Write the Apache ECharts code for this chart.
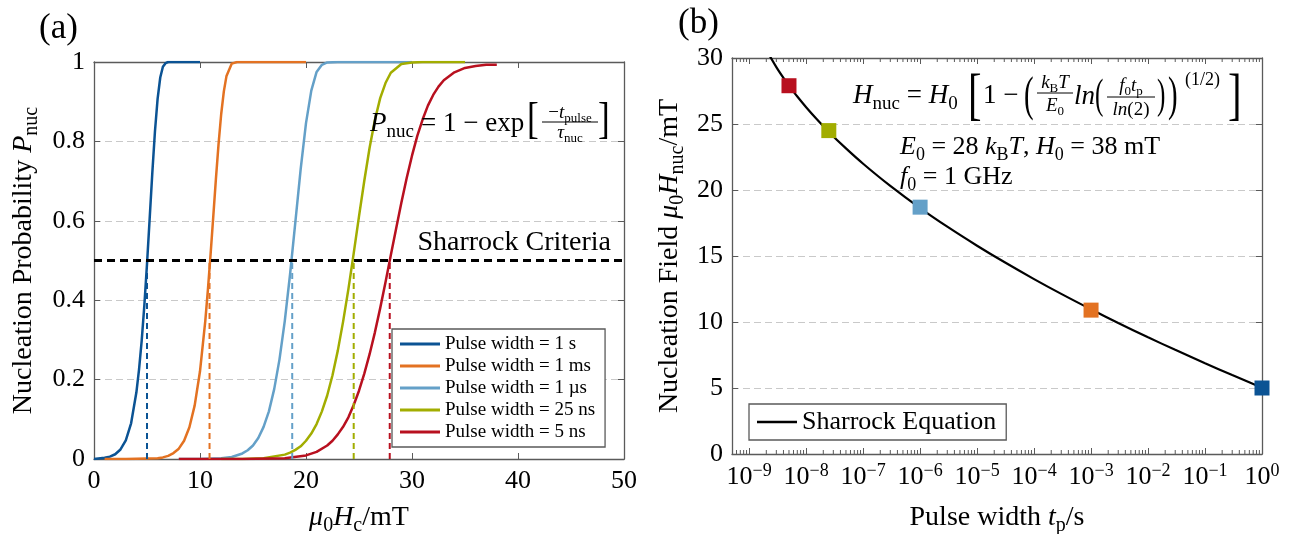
<!DOCTYPE html>
<html>
<head>
<meta charset="utf-8">
<title>Nucleation probability and Sharrock equation</title>
<script src="https://cdn.jsdelivr.net/npm/echarts@6/dist/echarts.min.js"></script>
<style>
  html, body { margin: 0; padding: 0; background: #ffffff; }
  #chart { width: 1291px; height: 534px; }
</style>
</head>
<body>
<div id="chart"></div>
<script>
// ---------- data: panel (a), nucleation probability vs applied field ----------
const curveNames = [
  'Pulse width = 1 s',
  'Pulse width = 1 ms',
  'Pulse width = 1 µs',
  'Pulse width = 25 ns',
  'Pulse width = 5 ns'
];

const field1s = [0, 1, 1.5, 2, 2.5, 3, 3.5, 4, 4.25, 4.5, 4.75, 5, 5.25, 5.5, 5.75, 6, 6.25, 6.5, 6.75, 7, 8, 10];
const prob1s  = [0, 0.003, 0.006, 0.012, 0.024, 0.047, 0.09, 0.168, 0.226, 0.298, 0.387, 0.491, 0.605, 0.72, 0.825, 0.907, 0.961, 0.988, 0.997, 1, 1, 1];

const field1ms = [1, 3, 5, 6, 6.5, 7, 7.5, 8, 8.5, 9, 9.5, 10, 10.5, 10.75, 11, 11.25, 11.5, 11.75, 12, 12.25, 12.5, 13, 13.5, 14, 20];
const prob1ms  = [0, 0, 0.001, 0.002, 0.004, 0.008, 0.015, 0.026, 0.046, 0.08, 0.135, 0.221, 0.348, 0.428, 0.516, 0.61, 0.705, 0.793, 0.869, 0.926, 0.965, 0.996, 1, 1, 1];

const field1us = [8, 10, 12, 13, 14, 14.5, 15, 15.5, 16, 16.5, 17, 17.5, 18, 18.5, 19, 19.5, 20, 20.5, 21, 21.5, 22, 23, 30];
const prob1us  = [0, 0, 0.002, 0.005, 0.014, 0.022, 0.034, 0.053, 0.081, 0.12, 0.176, 0.251, 0.348, 0.466, 0.598, 0.731, 0.846, 0.928, 0.975, 0.993, 0.999, 1, 1];

const field25ns = [12, 14, 16, 18, 18.5, 19, 19.5, 20, 20.5, 21, 21.5, 22, 22.5, 23, 23.5, 24, 24.5, 25, 25.5, 26, 26.5, 27, 27.5, 28, 29, 30, 31, 35];
const prob25ns  = [0, 0, 0.002, 0.011, 0.016, 0.023, 0.032, 0.046, 0.064, 0.088, 0.12, 0.16, 0.211, 0.273, 0.346, 0.428, 0.518, 0.611, 0.701, 0.784, 0.854, 0.909, 0.947, 0.973, 0.995, 0.999, 1, 1];

const field5ns = [8, 14, 18, 20, 21, 22, 22.5, 23, 23.5, 24, 24.5, 25, 25.5, 26, 26.5, 27, 27.5, 28, 28.5, 29, 29.5, 30, 30.5, 31, 31.5, 32, 32.5, 33, 34, 35, 36, 37, 38];
const prob5ns  = [0, 0, 0.002, 0.009, 0.018, 0.034, 0.046, 0.062, 0.081, 0.105, 0.136, 0.172, 0.215, 0.264, 0.319, 0.38, 0.445, 0.513, 0.58, 0.646, 0.708, 0.764, 0.814, 0.855, 0.89, 0.917, 0.938, 0.954, 0.974, 0.985, 0.99, 0.993, 0.993];

// Sharrock criterion: switching probability of one half
const sharrockLevel = 0.5;

// ---------- data: panel (b), nucleation field vs pulse width ----------
const pulseWidths      = [1, 1e-3, 1e-6, 2.5e-8, 5e-9];     // s, same order as curveNames
const nucleationFields = [5.0, 10.9, 18.7, 24.5, 27.9];     // mT

const sharrockPulse = [2e-9, 3e-9, 4e-9, 5e-9, 7e-9, 1e-8, 1.5e-8, 2.5e-8, 5e-8, 1e-7, 3e-7, 1e-6,
                       3e-6, 1e-5, 3e-5, 1e-4, 3e-4, 1e-3, 3e-3, 1e-2, 3e-2, 1e-1, 3e-1, 1];
const sharrockField = [30.61, 29.31, 28.49, 27.91, 27.08, 26.27, 25.41, 24.40, 23.15, 21.99, 20.31, 18.63,
                       17.22, 15.78, 14.54, 13.25, 12.13, 10.96, 9.93, 8.84, 7.89, 6.87, 5.98, 5.02];

// axis ranges and ticks
const fieldTicksA = { min: 0, max: 50, interval: 10 };
const probTicks   = { min: 0, max: 1, interval: 0.2 };
const pulseRange  = { min: 5e-10, max: 1 };
const fieldTicksB = { min: 0, max: 30, interval: 5 };
const minorDecades = [-10, -9, -8, -7, -6, -5, -4, -3, -2, -1];
const minorMultipliers = [2, 3, 4, 5, 6, 7, 8, 9];

// ---------- styling ----------
const palette = ['#0b5394', '#e37222', '#64a0c8', '#a2ad00', '#b8101f'];
const FONT = '"Liberation Serif", "DejaVu Serif", serif';
const FRAME = '#5a5a5a';
const GRID = '#c9c9c9';

function rich(F) {
  const s = Math.round(F * 0.7), lh = Math.round(F * 1.3);
  return {
    r: { fontSize: F, fontFamily: FONT, lineHeight: lh },
    i: { fontSize: F, fontFamily: FONT, fontStyle: 'italic', lineHeight: lh },
    s: { fontSize: s, fontFamily: FONT, lineHeight: s, verticalAlign: 'bottom' },
    p: { fontSize: s, fontFamily: FONT, lineHeight: s, verticalAlign: 'top' }
  };
}

function gtext(x, y, text, F, align) {
  const a = align || 'left';
  return {
    type: 'text', x: x, y: y, z: 20, silent: true,
    style: {
      text: text, rich: rich(F), fill: '#000', font: F + 'px ' + FONT,
      align: a, verticalAlign: 'middle', textAlign: a, textVerticalAlign: 'middle'
    }
  };
}

function rule(x1, x2, y) {
  return { type: 'line', z: 20, silent: true,
    shape: { x1: x1, y1: y, x2: x2, y2: y },
    style: { stroke: '#000', lineWidth: 1 } };
}

function glyph(x, y, ch, F, sx) {
  return {
    type: 'text', x: x, y: y, z: 20, silent: true, scaleX: sx || 1,
    style: { text: ch, fill: '#000', font: F + 'px ' + FONT,
      align: 'left', verticalAlign: 'middle', textAlign: 'left', textVerticalAlign: 'middle' }
  };
}

const tickLabel = { fontFamily: FONT, fontSize: 26, color: '#000' };

function frameAxis(gridIndex, position, type, range, extra) {
  return Object.assign({
    gridIndex: gridIndex, type: type, position: position,
    axisLine: { show: true, onZero: false, lineStyle: { color: FRAME, width: 1.3 } },
    axisTick: { show: true, inside: true, length: 6, lineStyle: { color: FRAME, width: 1 } },
    axisLabel: { show: false },
    splitLine: { show: false }
  }, range, extra || {});
}

// minor ticks of the logarithmic pulse-width axis
const minorTicks = [];
minorDecades.forEach(function (d) {
  minorMultipliers.forEach(function (m) {
    const v = m * Math.pow(10, d);
    if (v > pulseRange.min && v < pulseRange.max) minorTicks.push([v, 0]);
  });
});

function powerLabel(v) {
  const e = Math.log10(v);
  const n = Math.round(e);
  if (Math.abs(e - n) > 1e-6) return '';
  return '{b|10}{p|' + (n < 0 ? '−' + (-n) : n) + '}';
}

const chart = echarts.init(document.getElementById('chart'), null, { renderer: 'canvas' });

const fields = [field1s, field1ms, field1us, field25ns, field5ns];
const probs = [prob1s, prob1ms, prob1us, prob25ns, prob5ns];

const series = [];
fields.forEach(function (f, i) {
  series.push({
    type: 'line', name: curveNames[i], xAxisIndex: 0, yAxisIndex: 0,
    data: f.map(function (h, j) { return [h, probs[i][j]]; }),
    symbol: 'none', smooth: false, z: 3,
    lineStyle: { color: palette[i], width: 2.5, join: 'round' }, itemStyle: { color: palette[i] }
  });
});
nucleationFields.forEach(function (h, i) {
  series.push({
    type: 'line', xAxisIndex: 0, yAxisIndex: 0, symbol: 'none', z: 4, silent: true,
    data: [[h, 0], [h, sharrockLevel]],
    lineStyle: { color: palette[i], width: 2, type: [6, 4] }
  });
});
series.push({
  type: 'line', xAxisIndex: 0, yAxisIndex: 0, symbol: 'none', z: 5, silent: true,
  data: [[fieldTicksA.min, sharrockLevel], [fieldTicksA.max, sharrockLevel]],
  lineStyle: { color: '#000', width: 3, type: [8, 5] }
});
series.push({
  type: 'line', name: 'Sharrock Equation', xAxisIndex: 2, yAxisIndex: 2,
  data: sharrockPulse.map(function (t, j) { return [t, sharrockField[j]]; }),
  symbol: 'none', smooth: 0.3, z: 3,
  lineStyle: { color: '#000', width: 2.2 }, itemStyle: { color: '#000' }
});
series.push({
  type: 'scatter', xAxisIndex: 2, yAxisIndex: 2, symbol: 'rect', symbolSize: 15, clip: false, z: 6,
  data: pulseWidths.map(function (t, i) {
    return { value: [t, nucleationFields[i]], itemStyle: { color: palette[i], opacity: 1 } };
  })
});
series.push({
  type: 'custom', xAxisIndex: 2, yAxisIndex: 2, silent: true, z: 1, data: minorTicks,
  renderItem: function (params, api) {
    const v = api.value(0);
    const b = api.coord([v, fieldTicksB.min]);
    const t = api.coord([v, fieldTicksB.max]);
    const st = { stroke: FRAME, lineWidth: 1 };
    return { type: 'group', children: [
      { type: 'line', shape: { x1: b[0], y1: b[1], x2: b[0], y2: b[1] - 4 }, style: st },
      { type: 'line', shape: { x1: t[0], y1: t[1], x2: t[0], y2: t[1] + 4 }, style: st }
    ] };
  }
});

const R26 = rich(28);

chart.setOption({
  animation: false,
  backgroundColor: '#ffffff',
  grid: [
    { left: 94, top: 62, width: 530, height: 397, containLabel: false, outerBoundsMode: 'none' },
    { left: 732, top: 58, width: 530, height: 396, containLabel: false, outerBoundsMode: 'none' }
  ],
  xAxis: [
    frameAxis(0, 'bottom', 'value', fieldTicksA, {
      axisLabel: Object.assign({ show: true, margin: 9 }, tickLabel),
      name: '{i|μ}{s|0}{i|H}{s|c}{r|/mT}', nameLocation: 'middle', nameGap: 41,
      nameTextStyle: { rich: R26, color: '#000' }
    }),
    frameAxis(0, 'top', 'value', fieldTicksA),
    frameAxis(1, 'bottom', 'log', pulseRange, {
      logBase: 10, splitNumber: 10,
      axisLabel: { show: true, margin: 8, formatter: powerLabel, color: '#000',
        rich: { b: { fontFamily: FONT, fontSize: 26, lineHeight: 30 },
                p: { fontFamily: FONT, fontSize: 18, lineHeight: 16, verticalAlign: 'top' } } },
      name: '{r|Pulse width }{i|t}{s|p}{r|/s}', nameLocation: 'middle', nameGap: 46,
      nameTextStyle: { rich: R26, color: '#000' }
    }),
    frameAxis(1, 'top', 'log', pulseRange, { logBase: 10, splitNumber: 10 })
  ],
  yAxis: [
    frameAxis(0, 'left', 'value', probTicks, {
      axisLabel: Object.assign({ show: true, margin: 9 }, tickLabel),
      splitLine: { show: true, lineStyle: { color: GRID, width: 1, type: [7, 4] } },
      name: '{r|Nucleation Probability }{i|P}{s|nuc}', nameLocation: 'middle', nameGap: 52, nameRotate: 90,
      nameTextStyle: { rich: R26, color: '#000' }
    }),
    frameAxis(0, 'right', 'value', probTicks),
    frameAxis(1, 'left', 'value', fieldTicksB, {
      axisLabel: Object.assign({ show: true, margin: 9 }, tickLabel),
      splitLine: { show: true, lineStyle: { color: GRID, width: 1, type: [7, 4] } },
      name: '{r|Nucleation Field }{i|μ}{s|0}{i|H}{s|nuc}{r|/mT}', nameLocation: 'middle', nameGap: 44, nameRotate: 90,
      nameTextStyle: { rich: R26, color: '#000' }
    }),
    frameAxis(1, 'right', 'value', fieldTicksB)
  ],
  legend: [
    {
      data: curveNames, orient: 'vertical', left: 392, top: 329, icon: 'rect',
      itemWidth: 40, itemHeight: 3, itemGap: 2, padding: [5, 10, 5, 8],
      borderColor: FRAME, borderWidth: 1.3, backgroundColor: '#ffffff', selectedMode: false,
      textStyle: { fontFamily: FONT, fontSize: 19, lineHeight: 20, color: '#000' }
    },
    {
      data: ['Sharrock Equation'], orient: 'vertical', left: 749, top: 404, icon: 'rect',
      itemWidth: 40, itemHeight: 2.5, padding: [4, 10, 4, 8],
      borderColor: FRAME, borderWidth: 1.3, backgroundColor: '#ffffff', selectedMode: false,
      textStyle: { fontFamily: FONT, fontSize: 26, lineHeight: 28, color: '#000' }
    }
  ],
  graphic: [
    gtext(39, 29, '{r|(a)}', 35),
    gtext(678, 24, '{r|(b)}', 35),
    gtext(611, 243, '{r|Sharrock Criteria}', 28, 'right'),

    // P_nuc = 1 - exp[-t_pulse / tau_nuc]
    gtext(370, 124, '{i|P}{s|nuc}', 27),
    gtext(421, 124, '{r|= 1 − exp}', 27),
    glyph(527, 121, '[', 44, 0.8),
    gtext(570, 113, '{r|−}{i|t}{s|pulse}', 19, 'center'),
    rule(542, 598, 122),
    gtext(570, 133, '{i|τ}{s|nuc}', 19, 'center'),
    glyph(598, 121, ']', 44, 0.8),

    // H_nuc = H_0 [1 - (kB T / E0 ln(f0 tp / ln 2))^(1/2)]
    gtext(853, 96, '{i|H}{s|nuc}{r| = }{i|H}{s|0}', 27),
    glyph(968, 98, '[', 58, 0.7),
    gtext(983, 96, '{r|1 −}', 27),
    glyph(1024, 97, '(', 48, 0.6),
    gtext(1055, 83, '{i|k}{s|B}{i|T}', 19, 'center'),
    rule(1037, 1073, 93),
    gtext(1055, 106, '{i|E}{s|0}', 19, 'center'),
    gtext(1074, 97, '{i|ln}', 27),
    glyph(1095, 97, '(', 42, 0.6),
    gtext(1131, 86, '{i|f}{s|0}{i|t}{s|p}', 19, 'center'),
    rule(1107, 1155, 97),
    gtext(1131, 110, '{i|ln}{r|(2)}', 19, 'center'),
    glyph(1157, 97, ')', 42, 0.6),
    glyph(1168, 97, ')', 48, 0.6),
    gtext(1185, 80, '{r|(1/2)}', 18),
    glyph(1228, 98, ']', 58, 0.7),

    gtext(900, 147, '{i|E}{s|0}{r| = 28 }{i|k}{s|B}{i|T}{r|, }{i|H}{s|0}{r| = 38 mT}', 26),
    gtext(900, 177, '{i|f}{s|0}{r| = 1 GHz}', 26)
  ],
  series: series
});
</script>
</body>
</html>
